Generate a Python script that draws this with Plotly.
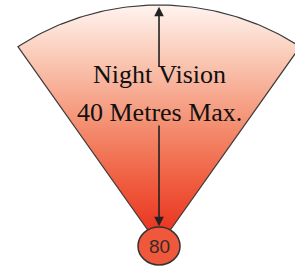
import numpy as np
import plotly.graph_objects as go

# ---- data ----
feature_label = "Night Vision"
range_label = "40 Metres Max."
range_m = 40
badge_value = "80"

# ---- geometry (metres) ----
half_angle = np.deg2rad(34.2)
t = np.linspace(-half_angle, half_angle, 80)
xs = [0.0] + list(range_m * np.sin(t)) + [0.0]
ys = [0.0] + list(range_m * np.cos(t)) + [0.0]

fig = go.Figure()
fig.add_trace(go.Scatter(
    x=xs, y=ys, mode="lines", fill="toself",
    line=dict(color="#3a3a3a", width=1.2),
    fillgradient=dict(type="vertical",
                      colorscale=[[0.0, "#e8291a"], [0.25, "#ef5a3d"],
                                  [0.5, "#f48e70"], [0.75, "#f9c3ae"],
                                  [1.0, "#fff4ef"]]),
    hoverinfo="skip", showlegend=False))

# arrow segments (broken by the text)
fig.add_annotation(x=0, y=range_m * 0.993, ax=0, ay=range_m * 0.737,
                   axref="x", ayref="y", xref="x", yref="y", text="",
                   showarrow=True, arrowhead=2, arrowsize=1.2, arrowwidth=1.6,
                   arrowcolor="#222")
fig.add_annotation(x=0, y=range_m * 0.082, ax=0, ay=range_m * 0.506,
                   axref="x", ayref="y", xref="x", yref="y", text="",
                   showarrow=True, arrowhead=2, arrowsize=1.2, arrowwidth=1.6,
                   arrowcolor="#222")

fig.add_annotation(x=0, y=range_m * 0.71, text=feature_label, showarrow=False,
                   font=dict(family="Liberation Serif", size=26, color="#111"))
fig.add_annotation(x=0, y=range_m * 0.553, text=range_label, showarrow=False,
                   font=dict(family="Liberation Serif", size=26, color="#111"))

# badge
fig.add_shape(type="circle", xref="x", yref="y",
              x0=-3.35, x1=3.35, y0=-0.0 - 3.15, y1=-0.0 + 3.15,
              fillcolor="#f0583c", line=dict(color="#333", width=1.5))
fig.add_annotation(x=0, y=0.0, text=badge_value, showarrow=False,
                   font=dict(family="Liberation Sans", size=19, color="#3a2a28"))

fig.update_xaxes(range=[-25.34, 21.67], visible=False, fixedrange=True)
fig.update_yaxes(range=[-4.15, 40.83], visible=False, fixedrange=True)
fig.update_layout(width=295, height=271, margin=dict(l=0, r=0, t=0, b=0),
                  paper_bgcolor="white", plot_bgcolor="white")

fig.write_html("out.html", config={"displayModeBar": False},
               post_script="document.body.style.margin='0';document.body.style.overflow='hidden';")
